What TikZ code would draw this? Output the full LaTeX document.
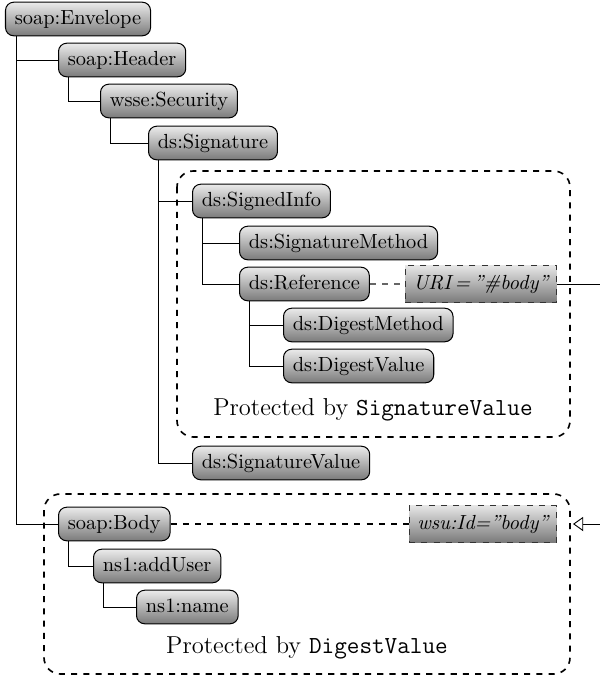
\documentclass[tikz,border=0pt]{standalone}
\usetikzlibrary{calc,arrows.meta}
\begin{document}
\begin{tikzpicture}[x=0.49pt,y=-0.49pt,
  elem/.style={draw=black,line width=0.5pt,rounded corners=4pt,top color=black!8,bottom color=black!52,
    inner xsep=4.6pt,inner ysep=3.8pt,text height=6.9pt,text depth=1.94pt,anchor=west,font=\normalsize},
  attr/.style={draw=black!80,dashed,top color=black!10,bottom color=black!52,
    inner xsep=4pt,inner ysep=4pt,text height=7.5pt,text depth=2.5pt,font=\itshape,anchor=east},
  tree/.style={draw=black,line width=0.45pt},
  frame/.style={draw=black,dashed,thick,rounded corners=8pt},
  note/.style={font=\large}]
\useasboundingbox (0,0) rectangle (600,676);
% frames
\draw[frame] (177,171) rectangle (570,437);
\draw[frame] (44,494) rectangle (570,674);
\node[note] (p1) at (373,410) {Protected by \texttt{SignatureValue}};
\node[note] (p2) at (307,648) {Protected by \texttt{DigestValue}};
% elements
\node[elem] (env) at (5,19) {soap:Envelope};
\node[elem] (hdr) at (58,60) {soap:Header};
\node[elem] (sec) at (100,101) {wsse:Security};
\node[elem] (sig) at (148,143) {ds:Signature};
\node[elem] (si) at (192,201) {ds:SignedInfo};
\node[elem] (sm) at (239,243) {ds:SignatureMethod};
\node[elem] (ref) at (239,284) {ds:Reference};
\node[elem] (dm) at (283,325) {ds:DigestMethod};
\node[elem] (dv) at (283,366) {ds:DigestValue};
\node[elem] (sv) at (192,463) {ds:SignatureValue};
\node[elem] (body) at (58,524) {soap:Body};
\node[elem] (add) at (93,566) {ns1:addUser};
\node[elem] (nm) at (136,607) {ns1:name};
\node[attr] (uri) at (557,284) {URI\,=\,''\#body''};
\node[attr] (wsu) at (557,524) {wsu:Id=''body''};
% tree connectors
\draw[tree] ($(env.south west)+(11,0)$) |- (hdr.west);
\draw[tree] ($(env.south west)+(11,0)$) |- (body.west);
\draw[tree] ($(hdr.south west)+(10,0)$) |- (sec.west);
\draw[tree] ($(sec.south west)+(10,0)$) |- (sig.west);
\draw[tree] ($(sig.south west)+(10,0)$) |- (si.west);
\draw[tree] ($(sig.south west)+(10,0)$) |- (sv.west);
\draw[tree] ($(si.south west)+(10,0)$) |- (sm.west);
\draw[tree] ($(si.south west)+(10,0)$) |- (ref.west);
\draw[tree] ($(ref.south west)+(10,0)$) |- (dm.west);
\draw[tree] ($(ref.south west)+(10,0)$) |- (dv.west);
\draw[tree] ($(body.south west)+(10,0)$) |- (add.west);
\draw[tree] ($(add.south west)+(10,0)$) |- (nm.west);
% attribute links
\draw[dashed,black!60,line width=0.5pt] (ref.east) -- (uri.west);
\draw[dashed,black,line width=0.5pt] (body.east) -- (wsu.west);
\coordinate (tgt) at (573,524);
\draw[line width=0.45pt,-{Triangle[open,length=5pt,width=7pt]}] (uri.east) -- (640,284) -- (640,524) -- (tgt);
\end{tikzpicture}
\end{document}
